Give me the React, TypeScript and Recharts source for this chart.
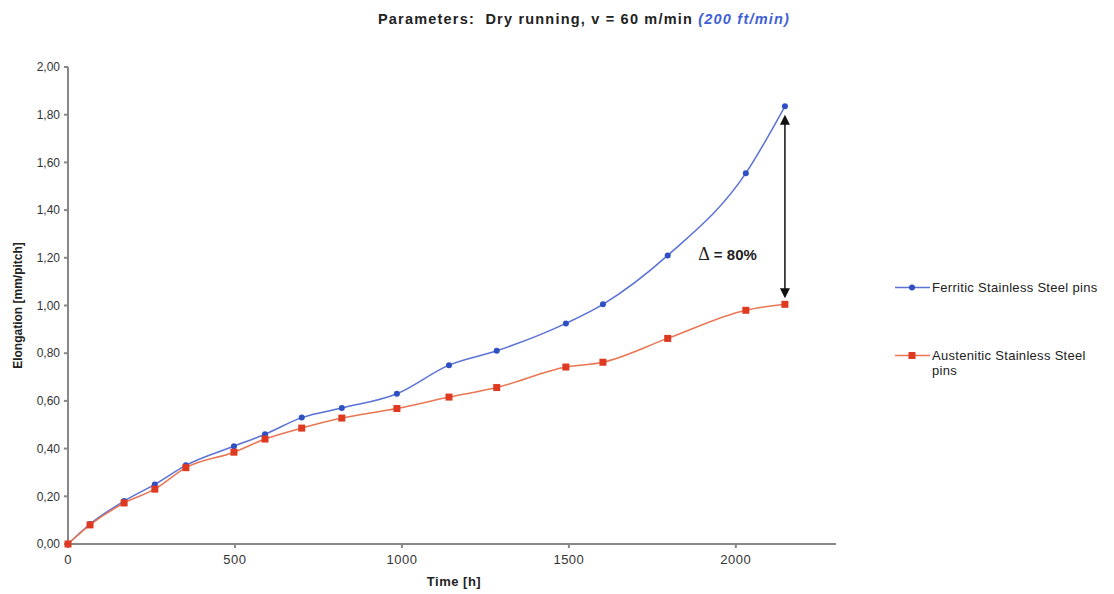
import React from "react"
import {LineChart, Line, XAxis, YAxis, Legend, ReferenceLine, ReferenceDot} from "recharts"

// readings from the reference chart
const hours = [0, 66, 168, 260, 353, 497, 590, 700, 820, 985, 1141, 1284, 1491, 1602, 1796, 2030, 2147]
const ferritic = [0, 0.084, 0.18, 0.25, 0.33, 0.41, 0.46, 0.53, 0.57, 0.63, 0.75, 0.81, 0.925, 1.005, 1.21, 1.555, 1.835]
const austenitic = [0, 0.08, 0.172, 0.23, 0.32, 0.385, 0.44, 0.486, 0.528, 0.568, 0.616, 0.656, 0.742, 0.762, 0.862, 0.98, 1.005]
const xTicks = [0, 500, 1000, 1500, 2000]
const yTicks = [0, 0.2, 0.4, 0.6, 0.8, 1.0, 1.2, 1.4, 1.6, 1.8, 2.0]

const data = hours.map((h, i) => ({h, ferritic: ferritic[i], austenitic: austenitic[i]}))

const FONT = "'Liberation Sans', Arial, sans-serif"
const BLUE = "#2f4fc4"
const BLUE_LINE = "#5b72d6"
const RED = "#de3a22"
const RED_LINE = "#ea7552"
const LEGEND_W = 220

const Square = (props: any) => {
   const {cx, cy} = props
   if (cx == null || cy == null) return null
   return <rect x={cx - 3.5} y={cy - 3.5} width={7} height={7} fill={RED} />
}

const Arrow = (props: any) => {
   const {x1, y1, x2, y2} = props
   const top = Math.min(y1, y2)
   const bot = Math.max(y1, y2)
   return (
      <g>
         <line x1={x1} y1={top + 6} x2={x1} y2={bot - 6} stroke="#111" strokeWidth={1.5} />
         <polygon points={`${x1},${top} ${x1 - 5},${top + 10} ${x1 + 5},${top + 10}`} fill="#111" />
         <polygon points={`${x1},${bot} ${x1 - 5},${bot - 10} ${x1 + 5},${bot - 10}`} fill="#111" />
      </g>
   )
}

const DeltaLabel = (props: any) => {
   const vb = props.viewBox || {}
   const cx = vb.cx != null ? vb.cx : vb.x + (vb.width || 0) / 2
   const cy = vb.cy != null ? vb.cy : vb.y + (vb.height || 0) / 2
   return (
      <text x={cx} y={cy + 5} textAnchor="middle" style={{fontSize: 15, fontWeight: 700, fill: "#222"}}>
         <tspan style={{fontFamily: "'Liberation Serif', 'Times New Roman', serif", fontWeight: 400, fontSize: 18}}>{"\u0394"}</tspan>
         <tspan style={{fontFamily: FONT}}>{" = 80%"}</tspan>
      </text>
   )
}

const LegendBox = () => (
   <div style={{fontFamily: FONT, fontSize: 13, letterSpacing: 0.3, color: "#222", width: LEGEND_W}}>
      <div style={{display: "flex", alignItems: "flex-start", height: 68}}>
         <svg width={37} height={15} style={{flexShrink: 0}}>
            <line x1={0} y1={7.5} x2={35} y2={7.5} stroke={BLUE_LINE} strokeWidth={1.5} />
            <circle cx={17} cy={7.5} r={3} fill={BLUE} />
         </svg>
         <span style={{lineHeight: "15px"}}>Ferritic Stainless Steel pins</span>
      </div>
      <div style={{display: "flex", alignItems: "flex-start"}}>
         <svg width={37} height={15} style={{flexShrink: 0}}>
            <line x1={0} y1={7.5} x2={35} y2={7.5} stroke={RED_LINE} strokeWidth={1.5} />
            <rect x={13.5} y={4} width={7} height={7} fill={RED} />
         </svg>
         <span style={{lineHeight: "15px", width: 175}}>Austenitic Stainless Steel pins</span>
      </div>
   </div>
)

export default function App() {
   return (
      <div style={{position: "absolute", left: 0, top: 0, width: 1114, height: 594, background: "#fff"}}>
         <div style={{position: "absolute", left: 0, top: 11, width: 1168, textAlign: "center",
            fontFamily: FONT, fontSize: 14.5, letterSpacing: 1.2, fontWeight: 700, color: "#222"}}>
            Parameters:&nbsp; Dry running, v = 60 m/min <span style={{color: "#3f5fd8", fontStyle: "italic"}}>(200 ft/min)</span>
         </div>
         <LineChart width={1114} height={594} data={data} margin={{top: 67, right: 278 - LEGEND_W, bottom: 20, left: 8}}
            style={{position: "absolute", left: 0, top: 0}}>
            <XAxis dataKey="h" type="number" domain={[0, 2300]} ticks={xTicks} height={30}
               stroke="#888" strokeWidth={2} tickSize={4} tickMargin={7}
               tick={{fill: "#333", fontSize: 13, fontFamily: FONT, letterSpacing: 0.5}}
               label={{value: "Time [h]", position: "insideBottom", offset: -12, dx: 2,
                  style: {fontFamily: FONT, fontSize: 13, letterSpacing: 0.5, fontWeight: 700, fill: "#222"}}} />
            <YAxis type="number" domain={[0, 2]} ticks={yTicks} width={60} stroke="#888" strokeWidth={2} tickSize={4} tickMargin={4}
               tickFormatter={(v: number) => v.toFixed(2).replace(".", ",")}
               tick={{fill: "#333", fontSize: 12, fontFamily: FONT}}
               label={{value: "Elongation [mm/pitch]", angle: -90, position: "insideLeft", offset: 10,
                  style: {fontFamily: FONT, fontSize: 12, fontWeight: 700, fill: "#222", textAnchor: "middle"}}} />
            <Line type="monotone" dataKey="ferritic" name="Ferritic Stainless Steel pins" stroke={BLUE_LINE} strokeWidth={1.5}
               dot={{r: 3, fill: BLUE, stroke: BLUE, strokeWidth: 0}} activeDot={false} isAnimationActive={false} />
            <Line type="monotone" dataKey="austenitic" name="Austenitic Stainless Steel pins" stroke={RED_LINE} strokeWidth={1.5}
               dot={<Square />} activeDot={false} isAnimationActive={false} />
            <ReferenceLine segment={[{x: 2147, y: 1.80}, {x: 2147, y: 1.03}]} shape={<Arrow />} />
            <ReferenceDot x={1975} y={1.21} r={1} fill="none" stroke="none" label={<DeltaLabel />} />
            <Legend layout="vertical" align="right" verticalAlign="top" content={<LegendBox />}
               wrapperStyle={{left: 895, top: 280, width: LEGEND_W}} />
         </LineChart>
      </div>
   )
}
